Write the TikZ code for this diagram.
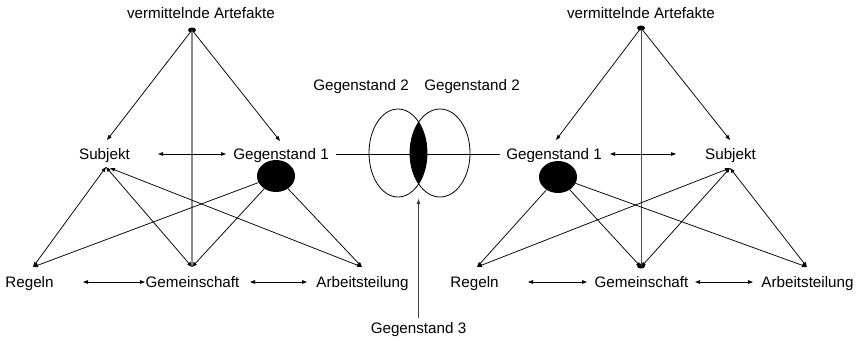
\documentclass[tikz,border=0pt]{standalone}
\usepackage{fontspec}
\setmainfont{Liberation Sans}
\usetikzlibrary{arrows.meta,shapes.geometric}
\begin{document}
\begin{tikzpicture}[x=1pt,y=-1pt,
  lbl/.style={font=\fontsize{15.2}{17}\selectfont, inner sep=0pt, anchor=base},
  con/.style={line width=0.75pt},
  ar/.style={con, -{Triangle[length=5pt,width=3.6pt]}},
  dar/.style={con, {Triangle[length=5pt,width=3.6pt]}-{Triangle[length=5pt,width=3.6pt]}},
  vert/.style={line width=1.3pt, draw=black!45, -{Triangle[length=5pt,width=4pt]}},
  blob/.style={ellipse, fill=black, inner sep=0pt, minimum width=38pt, minimum height=32pt},
  dot/.style={ellipse, fill=black, inner sep=0pt, minimum width=8pt, minimum height=5pt}
]
\useasboundingbox (0,0) rectangle (858,340);

% ---------- left triangle ----------
\node[lbl] (lVA) at (201,18) {vermittelnde Artefakte};
\node[dot] (lTop) at (192,30) {};
\node[lbl] (lSub) at (104.5,159) {Subjekt};
\node[lbl] (lG1) at (281,159) {Gegenstand 1};
\node[lbl] (lReg) at (29.5,287) {Regeln};
\node[lbl] (lGem) at (192.5,287) {Gemeinschaft};
\node[lbl] (lArb) at (362.5,287) {Arbeitsteilung};
\node[blob] (lE) at (276,176) {};
\coordinate (lTS) at (107,140);
\coordinate (lTG) at (280,141);
\coordinate (lSb) at (106,167);
\coordinate (lSb2) at (110,168);
\coordinate (lRt) at (33,267);
\coordinate (lGt) at (192,267);
\coordinate (lAt) at (362,267);
\coordinate (lH1a) at (158,154);
\coordinate (lH1b) at (226,154);
\coordinate (lH2a) at (83,282);
\coordinate (lH2b) at (145,282);
\coordinate (lH3a) at (250,282);
\coordinate (lH3b) at (307,282);

\draw[vert] (lTop.center) -- (lGt);
\draw[ar] (lTop.center) -- (lTS);
\draw[ar] (lTop.center) -- (lTG);
\draw[dar] (lH1a) -- (lH1b);
\draw[dar] (lH2a) -- (lH2b);
\draw[dar] (lH3a) -- (lH3b);
\draw[dar] (lSb) -- (lRt);
\draw[dar] (lSb) -- (lGt);
\draw[dar] (lSb2) -- (lAt);
\draw[ar] (lE) -- (lRt);
\draw[ar] (lE) -- (lGt);
\draw[ar] (lE) -- (lAt);

% ---------- centre ----------
\node[lbl] (cG2a) at (361,90) {Gegenstand 2};
\node[lbl] (cG2b) at (472,90) {Gegenstand 2};
\node[lbl] (cG3) at (418.5,333) {Gegenstand 3};
\node[ellipse, draw, line width=0.8pt, minimum width=58pt, minimum height=88pt, inner sep=0pt] (cL) at (398,153) {};
\node[ellipse, draw, line width=0.8pt, minimum width=60pt, minimum height=88pt, inner sep=0pt] (cR) at (440,153) {};
\coordinate (cLine1) at (336,154);
\coordinate (cLine2) at (500,154);
\coordinate (cLensB) at (418.5,199);
\coordinate (cG3t) at (418.5,318);
\draw[con] (cLine1) -- (cLine2);
\begin{scope}
  \clip (398,153) ellipse (29 and 44);
  \fill (440,153) ellipse (30 and 44);
\end{scope}
\draw[con, line width=0.9pt, draw=black!75, -{Triangle[length=5pt,width=3.6pt]}] (cG3t) -- (cLensB);

% ---------- right triangle ----------
\node[lbl] (rVA) at (641,18) {vermittelnde Artefakte};
\node[dot] (rTop) at (641,28) {};
\node[lbl] (rG1) at (554,159) {Gegenstand 1};
\node[lbl] (rSub) at (730.5,159) {Subjekt};
\node[lbl] (rReg) at (474.5,287) {Regeln};
\node[lbl] (rGem) at (641.5,287) {Gemeinschaft};
\node[lbl] (rArb) at (807.5,287) {Arbeitsteilung};
\node[blob] (rE) at (558,177) {};
\node[dot] (rGd) at (641,266) {};
\coordinate (rTG) at (556,140);
\coordinate (rTS) at (730,140);
\coordinate (rSb) at (730,168);
\coordinate (rRt) at (477,267);
\coordinate (rGt) at (641,267);
\coordinate (rAt) at (807,267);
\coordinate (rH1a) at (610,154);
\coordinate (rH1b) at (676,154);
\coordinate (rH2a) at (528,282);
\coordinate (rH2b) at (587,282);
\coordinate (rH3a) at (695,282);
\coordinate (rH3b) at (753,282);

\draw[con, draw=black!70, line width=0.9pt] (rTop.center) -- (rGd.center);
\draw[ar] (rTop.center) -- (rTG);
\draw[ar] (rTop.center) -- (rTS);
\draw[dar] (rH1a) -- (rH1b);
\draw[dar] (rH2a) -- (rH2b);
\draw[dar] (rH3a) -- (rH3b);
\draw[dar] (rSb) -- (rRt);
\draw[dar] (rSb) -- (rGt);
\draw[dar] (rSb) -- (rAt);
\draw[ar] (rE) -- (rRt);
\draw[ar] (rE) -- (rGt);
\draw[ar] (rE) -- (rAt);
\end{tikzpicture}
\end{document}
